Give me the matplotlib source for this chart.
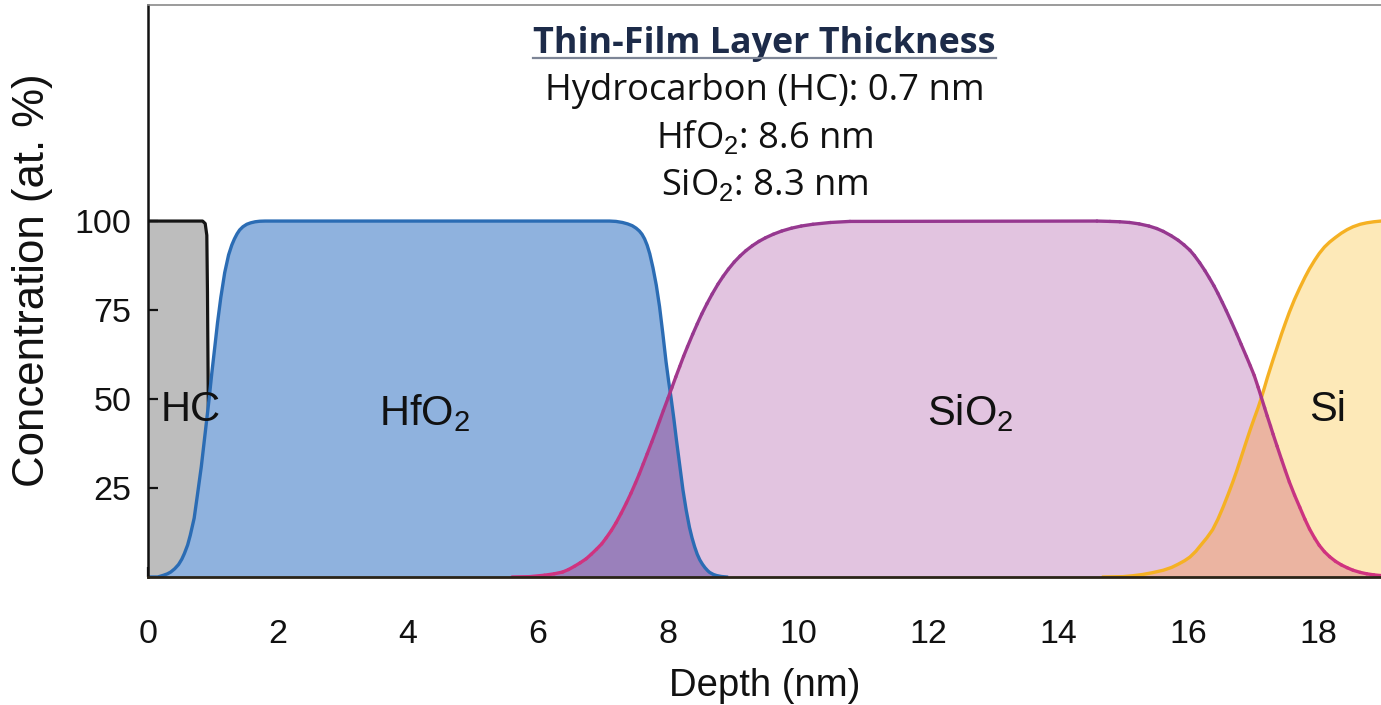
import numpy as np
import matplotlib
matplotlib.use("Agg")
import matplotlib.pyplot as plt
from matplotlib.collections import LineCollection
from matplotlib.colors import to_rgb
from matplotlib.lines import Line2D

# ---------------- data ----------------
hc_depth = [0.0, 0.84, 0.88, 0.905, 0.915, 0.925, 0.935, 0.95, 0.98, 1.02]
hc_conc = [100, 100, 99.3, 96, 80, 55, 30, 10, 2, 0]

hfo2_depth = [0.0, 0.15, 0.24, 0.3, 0.35, 0.41, 0.47, 0.52, 0.56, 0.61, 0.65,
              0.71, 0.76, 0.82, 0.88, 0.94, 0.98, 1.03, 1.07, 1.12, 1.18, 1.24,
              1.29, 1.33, 1.37, 1.41, 1.46, 1.52, 1.58, 1.65, 1.72, 1.8,
              7.1, 7.2, 7.3, 7.38, 7.45, 7.51, 7.56, 7.6, 7.64, 7.68, 7.72,
              7.77, 7.82, 7.87, 7.92, 7.97, 8.01, 8.05, 8.09, 8.13, 8.18, 8.23,
              8.28, 8.33, 8.37, 8.41, 8.45, 8.49, 8.53, 8.57, 8.61, 8.64, 8.7,
              8.75, 8.82, 8.9]
hfo2_conc = [0, 0, 0.5, 0.9, 1.4, 2.3, 3.5, 5, 6.6, 9, 11.7,
             16.5, 23, 31, 40.5, 50, 57, 65, 71.5, 78.5, 85.5, 90.5,
             93.3, 95, 96.4, 97.5, 98.4, 99.1, 99.5, 99.8, 99.95, 100,
             100, 99.9, 99.6, 99.2, 98.7, 98, 97.2, 96.3, 95, 93.2, 90.8,
             86.8, 82, 76, 68.5, 60.5, 55, 50, 44.5, 38.5, 31.5, 24.5,
             18.8, 14, 11, 8.5, 6.4, 4.8, 3.6, 2.6, 1.8, 1.3, 0.7,
             0.4, 0.15, 0]

sio2_depth = [5.6, 5.87, 6.1, 6.25, 6.38, 6.47, 6.56, 6.65, 6.74, 6.82, 6.9,
              6.98, 7.05, 7.13, 7.2, 7.28, 7.36, 7.43, 7.5, 7.56, 7.62, 7.68,
              7.75, 7.81, 7.87, 7.93, 8.0, 8.06, 8.12, 8.18, 8.24, 8.3, 8.38,
              8.45, 8.52, 8.6, 8.68, 8.77, 8.85, 8.93, 9.02, 9.11, 9.2, 9.3,
              9.4, 9.5, 9.62, 9.75, 9.9, 10.05, 10.23, 10.5, 10.8,
              14.6, 14.8, 14.95, 15.1, 15.25, 15.4, 15.52, 15.62, 15.74, 15.85,
              15.94, 16.03, 16.1, 16.18, 16.26, 16.33, 16.4, 16.46, 16.53, 16.59,
              16.67, 16.75, 16.82, 16.9, 16.96, 17.02, 17.08, 17.13, 17.18,
              17.22, 17.27, 17.31, 17.37, 17.44, 17.5, 17.56, 17.64, 17.72,
              17.8, 17.87, 17.95, 18.02, 18.1, 18.18, 18.27, 18.36, 18.45,
              18.54, 18.65, 18.75, 18.86, 18.97]
sio2_conc = [0, 0.1, 0.5, 0.9, 1.4, 2.1, 3, 4, 5.1, 6.4, 7.8,
             9.3, 11, 13.1, 15.2, 17.9, 20.8, 23.5, 26.4, 29, 31.8, 34.6,
             37.9, 40.8, 43.8, 46.8, 50.2, 53.2, 56.2, 59.1, 62, 64.7, 68.2,
             71.1, 73.9, 76.8, 79.5, 82.3, 84.5, 86.5, 88.5, 90.2, 91.7, 93.1,
             94.3, 95.3, 96.3, 97.2, 98, 98.6, 99.1, 99.6, 99.9,
             100, 99.9, 99.8, 99.6, 99.2, 98.6, 97.9, 97.1, 95.9, 94.6,
             93.3, 91.8, 90.3, 88.3, 86.1, 84, 81.8, 79.7, 77.1, 74.8,
             71.6, 68.3, 65.3, 61.9, 59.3, 56.6, 53.3, 50.4, 47.5,
             45.2, 42.4, 40.1, 36.8, 33, 29.8, 26.7, 23, 19.6,
             16.2, 13.5, 10.9, 8.9, 7.1, 5.7, 4.4, 3.4, 2.6,
             1.9, 1.3, 0.9, 0.6, 0.4]

si_depth = [14.7, 15.0, 15.15, 15.3, 15.45, 15.62, 15.75, 15.85, 15.95, 16.03,
            16.12, 16.2, 16.29, 16.38, 16.46, 16.54, 16.62, 16.69, 16.75, 16.8,
            16.85, 16.9, 16.96, 17.02, 17.08, 17.13, 17.18, 17.22, 17.27, 17.31,
            17.37, 17.44, 17.5, 17.56, 17.64, 17.72, 17.8, 17.87, 17.95, 18.02,
            18.1, 18.18, 18.27, 18.36, 18.45, 18.54, 18.65, 18.75, 18.86, 18.97]
si_conc = [0, 0.1, 0.35, 0.7, 1.2, 1.9, 2.7, 3.6, 4.6, 5.6,
           7.2, 9, 11, 13.3, 16.2, 19.6, 23.3, 26.7, 29.8, 32.6,
           35.4, 38.2, 41.5, 44.6, 47.6, 50.4, 53.4, 55.9, 58.8, 61.1,
           64.4, 68.3, 71.4, 74.4, 78, 81.2, 84.2, 86.6, 89, 90.9,
           92.7, 94.1, 95.4, 96.6, 97.6, 98.4, 99.1, 99.5, 99.8, 100]

layer_labels = ["HC", "HfO$_2$", "SiO$_2$", "Si"]
label_depth = [0.65, 4.25, 12.65, 18.15]
label_conc = [47, 46, 46, 47]

title = "Thin-Film Layer Thickness"
thickness_lines = ["Hydrocarbon (HC): 0.7 nm", "HfO$_2$: 8.6 nm", "SiO$_2$: 8.3 nm"]

x_ticks = [0, 2, 4, 6, 8, 10, 12, 14, 16, 18]
y_ticks = [25, 50, 75, 100]

# ---------------- style ----------------
plt.rcParams['font.family'] = ['Liberation Sans', 'DejaVu Sans']
plt.rcParams['mathtext.fontset'] = 'custom'
plt.rcParams['mathtext.rm'] = 'Liberation Sans'
plt.rcParams['mathtext.it'] = 'Liberation Sans:italic'
plt.rcParams['mathtext.bf'] = 'Liberation Sans:bold'

fig = plt.figure(figsize=(13.81, 7.05), dpi=100)
ax = fig.add_axes([148/1381, (705-577)/705, 1 - 148/1381, (577-5)/705])
ax.set_xlim(0, 18.97)
ax.set_ylim(0, 160.7)

c_gray_fill = '#bdbdbd'
c_blue_fill = '#8fb2de'
c_blue_line = '#2b6cb4'
c_pink_fill = '#e2c4e0'
c_purple = '#9a80bb'
c_yellow_fill = '#fde9b8'
c_yellow_line = '#f5b123'
c_orange = '#ebb4a1'

# fills
ax.fill_between(hc_depth, hc_conc, color=c_gray_fill, lw=0, zorder=1)
ax.plot(hc_depth, hc_conc, color='#151515', lw=2.3, zorder=2, solid_joinstyle='round')
ax.fill_between(hfo2_depth, hfo2_conc, color=c_blue_fill, lw=0, zorder=3)
ax.fill_between(sio2_depth, sio2_conc, color=c_pink_fill, lw=0, zorder=3)
ax.fill_between(si_depth, si_conc, color=c_yellow_fill, lw=0, zorder=3)

# overlap HfO2 / SiO2
px = [d for d in sio2_depth if d <= 8.03] + [d for d in hfo2_depth if d > 8.03]
py = [c for d, c in zip(sio2_depth, sio2_conc) if d <= 8.03] + \
     [c for d, c in zip(hfo2_depth, hfo2_conc) if d > 8.03]
ax.fill(px + [px[-1], px[0]], py + [0, 0], color=c_purple, lw=0, zorder=4)

# overlap SiO2 / Si
qx = [d for d in si_depth if d <= 17.13] + [d for d in sio2_depth if d > 17.13]
qy = [c for d, c in zip(si_depth, si_conc) if d <= 17.13] + \
     [c for d, c in zip(sio2_depth, sio2_conc) if d > 17.13]
ax.fill(qx + [qx[-1], qx[0]], qy + [0, 0], color=c_orange, lw=0, zorder=4)

# lines
ax.plot(hfo2_depth, hfo2_conc, color=c_blue_line, lw=2.4, zorder=6, solid_joinstyle='round')
ax.plot(si_depth, si_conc, color=c_yellow_line, lw=2.4, zorder=6, solid_joinstyle='round')

# SiO2 line with a colour that shifts from magenta (low) to purple (high)
lo = np.array(to_rgb('#d0337f'))
hi = np.array(to_rgb('#963890'))
pts = np.column_stack([sio2_depth, sio2_conc])
segs = np.stack([pts[:-1], pts[1:]], axis=1)
mid = (pts[:-1, 1] + pts[1:, 1]) / 2
t = np.clip((mid - 15) / 55, 0, 1)[:, None]
cols = lo * (1 - t) + hi * t
lc = LineCollection(segs, colors=cols, linewidths=2.4, zorder=7, capstyle='round', joinstyle='round')
ax.add_collection(lc)

# layer labels
for lab, d, c in zip(layer_labels, label_depth, label_conc):
    ax.text(d, c, lab, ha='center', va='center', fontsize=30, color='#111111', zorder=9)

# title block (baselines in axes fraction)
cx = 0.5
tfont = ['Open Sans', 'DejaVu Sans']
tt = ax.text(cx, (577 - 53) / 572, title, transform=ax.transAxes, ha='center', va='baseline',
             fontsize=25.8, fontweight='bold', color='#1d2b49', family=tfont, zorder=9)
line_base = [100, 148, 195]
for s, yb in zip(thickness_lines, line_base):
    ax.text(cx, (577 - yb) / 572, s, transform=ax.transAxes, ha='center', va='baseline',
            fontsize=26.2, color='#111111', family=tfont, zorder=9)

# axes styling
ax.set_xticks(x_ticks)
ax.set_yticks(y_ticks)
ax.tick_params(axis='both', direction='in', length=7, width=1.6, colors='#111111', labelsize=24.5)
ax.tick_params(axis='x', pad=30)
ax.tick_params(axis='y', pad=12)
ax.spines['right'].set_visible(False)
ax.spines['top'].set_color('#8a8a8a')
ax.spines['top'].set_linewidth(1.2)
ax.spines['left'].set_color('#111111')
ax.spines['left'].set_linewidth(1.8)
ax.spines['bottom'].set_color('#2a2418')
ax.spines['bottom'].set_linewidth(2.0)
for s in ax.spines.values():
    s.set_zorder(10)

ax.set_xlabel("Depth (nm)", fontsize=27.5, labelpad=13, color='#111111')
ax.set_ylabel("Concentration (at. %)", fontsize=31.5, labelpad=15, color='#111111')
ax.yaxis.set_label_coords(-0.077, (577 - 280) / 572)

# underline for the title
fig.canvas.draw()
r = fig.canvas.get_renderer()
bb = tt.get_window_extent(renderer=r)
uy = (705 - 58) / 705
fig.add_artist(Line2D([bb.x0 / fig.bbox.width, bb.x1 / fig.bbox.width], [uy, uy],
                      color='#7d8596', lw=1.6))

fig.savefig("out.png", dpi=100)
